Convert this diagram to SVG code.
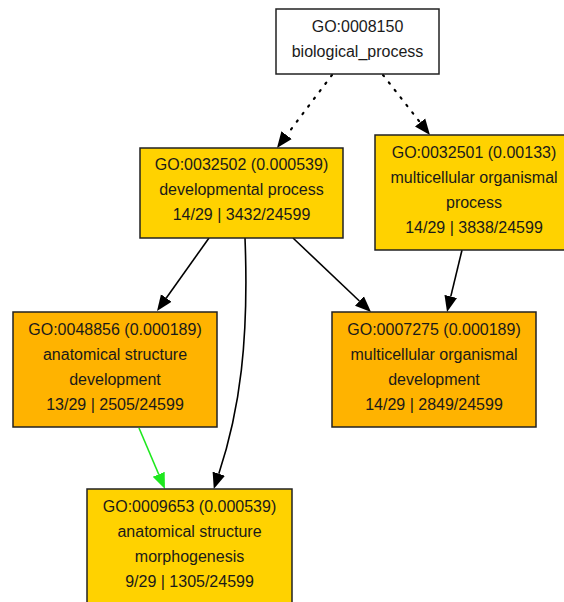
<svg xmlns="http://www.w3.org/2000/svg" width="564" height="602" viewBox="0 0 564 602">
  <style>
    .box { stroke: #222; stroke-width: 1.5; }
    .white { fill: #ffffff; }
    .yellow { fill: #FFD200; }
    .orange { fill: #FFB300; }
    text { font-family: "Liberation Sans", Arial, sans-serif; font-size: 16px; fill: #1a1a1a; text-anchor: middle; }
    .edge { fill: none; stroke: #000; stroke-width: 1.6; }
    .dotted { stroke-dasharray: 1.5 8; stroke-linecap: round; stroke-width: 2.2; }
    .green { stroke: #1EE81E; }
  </style>
  <defs>
    <marker id="arrow" viewBox="0 0 16 14" refX="0" refY="7" markerWidth="16" markerHeight="14" markerUnits="userSpaceOnUse" orient="auto">
      <path d="M0,0.5 L16,7 L0,13.5 z" fill="#000"/>
    </marker>
    <marker id="arrowGreen" viewBox="0 0 16 14" refX="0" refY="7" markerWidth="16" markerHeight="14" markerUnits="userSpaceOnUse" orient="auto">
      <path d="M0,0.5 L16,7 L0,13.5 z" fill="#1EE81E"/>
    </marker>
  </defs>
  <rect width="564" height="602" fill="#ffffff"/>

  <g id="connectors">
    <path class="edge dotted" d="M332,75 L286.6,135.2" marker-end="url(#arrow)"/>
    <path class="edge dotted" d="M383,75 L420.1,122.4" marker-end="url(#arrow)"/>
    <path class="edge" d="M209,238 L166.3,298" marker-end="url(#arrow)"/>
    <path class="edge" d="M245,238 C249,340 240,410 218.8,473.7" marker-end="url(#arrow)"/>
    <path class="edge" d="M293,238 L359.4,301" marker-end="url(#arrow)"/>
    <path class="edge" d="M462,250 L450.8,296.4" marker-end="url(#arrow)"/>
    <path class="edge green" d="M139,428 L158.7,474.3" marker-end="url(#arrowGreen)"/>
  </g>

  <g id="GO0008150">
    <rect class="box white" x="276" y="9" width="163" height="65"/>
    <text x="357.5" y="32">GO:0008150</text>
    <text x="357.5" y="57">biological_process</text>
  </g>

  <g id="GO0032502">
    <rect class="box yellow" x="140" y="148" width="203" height="90"/>
    <text x="241.5" y="170">GO:0032502 (0.000539)</text>
    <text x="241.5" y="195">developmental process</text>
    <text x="241.5" y="220">14/29 | 3432/24599</text>
  </g>

  <g id="GO0032501">
    <rect class="box yellow" x="375" y="135" width="198" height="115"/>
    <text x="474" y="158">GO:0032501 (0.00133)</text>
    <text x="474" y="183">multicellular organismal</text>
    <text x="474" y="208">process</text>
    <text x="474" y="233">14/29 | 3838/24599</text>
  </g>

  <g id="GO0048856">
    <rect class="box orange" x="13" y="312" width="204" height="115"/>
    <text x="115" y="335">GO:0048856 (0.000189)</text>
    <text x="115" y="360">anatomical structure</text>
    <text x="115" y="385">development</text>
    <text x="115" y="410">13/29 | 2505/24599</text>
  </g>

  <g id="GO0007275">
    <rect class="box orange" x="332" y="312" width="204" height="115"/>
    <text x="434" y="335">GO:0007275 (0.000189)</text>
    <text x="434" y="360">multicellular organismal</text>
    <text x="434" y="385">development</text>
    <text x="434" y="410">14/29 | 2849/24599</text>
  </g>

  <g id="GO0009653">
    <rect class="box yellow" x="87" y="489" width="205" height="115"/>
    <text x="189.5" y="512">GO:0009653 (0.000539)</text>
    <text x="189.5" y="537">anatomical structure</text>
    <text x="189.5" y="562">morphogenesis</text>
    <text x="189.5" y="587">9/29 | 1305/24599</text>
  </g>
</svg>
